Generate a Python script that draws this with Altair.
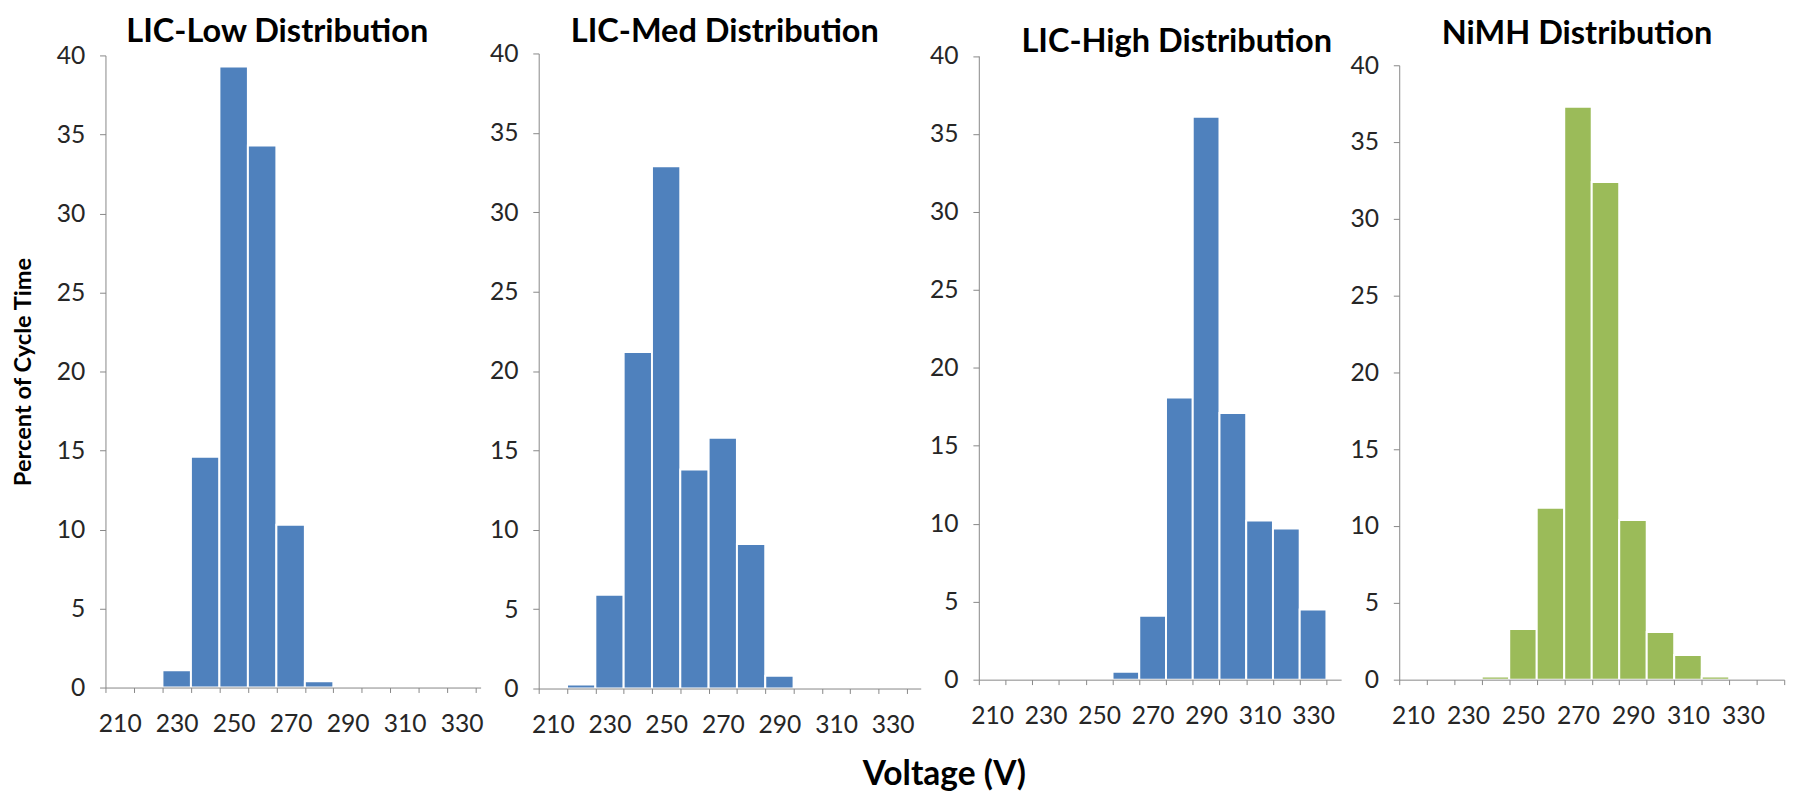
import altair as alt
import pandas as pd

# Voltage bin centres (V)
categories = [210, 220, 230, 240, 250, 260, 270, 280, 290, 300, 310, 320, 330, 340]

# Percent of cycle time per voltage bin
lic_low = [0, 0, 1.1, 14.6, 39.3, 34.3, 10.3, 0.4, 0, 0, 0, 0, 0]
lic_med = [0, 0.25, 5.9, 21.2, 32.9, 13.8, 15.8, 9.1, 0.8, 0, 0, 0, 0]
lic_high = [0, 0, 0, 0, 0, 0.5, 4.1, 18.1, 36.1, 17.1, 10.2, 9.7, 4.5]
nimh = [0, 0, 0, 0.2, 3.3, 11.2, 37.3, 32.4, 10.4, 3.1, 1.6, 0.2, 0, 0]

titles = ["LIC-Low Distribution", "LIC-Med Distribution",
          "LIC-High Distribution", "NiMH Distribution"]
series = [lic_low, lic_med, lic_high, nimh]
colors = ["#4F81BD", "#4F81BD", "#4F81BD", "#9BBB59"]

FONT = "Lato"
AXIS_COL = "#868686"
TEXT_COL = "#262626"
H = 648

# per-panel layout: plot width, x domain end, y range (bottom, top), x-axis offset,
# title dx / dy / offset, label offset (half a bin in px)
layout = [
    dict(width=381, xmax=336.7, rng=[644, 2], xoff=-4, tdx=-16, tdy=6, toff=1, lo=14.5),
    dict(width=388, xmax=339.9, rng=[645, 0], xoff=-3, tdx=-5, tdy=7, toff=0, lo=14.4),
    dict(width=368, xmax=340.5, rng=[636, 2.5], xoff=-12, tdx=17, tdy=15, toff=0, lo=13.6),
    dict(width=391, xmax=345.0, rng=[636, 12], xoff=-12, tdx=-15, tdy=6, toff=8.5, lo=14.0),
]

panels = []
for i, (title, vals, col, lay) in enumerate(zip(titles, series, colors, layout)):
    cats = categories[:len(vals)]
    df = pd.DataFrame({"volt": cats, "pct": vals})
    df["start"] = df["volt"] - 5
    df["end"] = df["volt"] + 5
    df = df[df["pct"] > 0]
    bounds_ticks = [c - 5 for c in cats] + [cats[-1] + 5]

    chart = alt.Chart(df).mark_bar(
        color=col, stroke="white", strokeWidth=2
    ).encode(
        x=alt.X("start:Q",
                scale=alt.Scale(domain=[205, lay["xmax"]], nice=False, zero=False),
                axis=alt.Axis(
                    values=bounds_ticks, title="",
                    labelExpr="datum.value <= 325 && (datum.value - 205) % 20 == 0 ? datum.value + 5 : ''",
                    labelOffset=lay["lo"], labelFlush=False, labelOverlap=False,
                    labelFont=FONT, labelFontSize=25, labelColor=TEXT_COL,
                    labelPadding=20, tickSize=5, tickColor=AXIS_COL,
                    domainColor=AXIS_COL, grid=False, offset=lay["xoff"], zindex=1)),
        x2="end:Q",
        y=alt.Y("pct:Q",
                scale=alt.Scale(domain=[0, 40], range=lay["rng"], nice=False),
                axis=alt.Axis(
                    values=list(range(0, 41, 5)),
                    title="Percent of Cycle Time" if i == 0 else "",
                    titleFont=FONT, titleFontSize=24, titleFontWeight="bold",
                    titleColor="black", titlePadding=21,
                    labelFont=FONT, labelFontSize=25, labelColor=TEXT_COL,
                    labelPadding=15, tickSize=6, tickColor=AXIS_COL,
                    domainColor=AXIS_COL, grid=False, zindex=1)),
        y2=alt.datum(0),
    ).properties(
        width=lay["width"], height=H,
        title=alt.TitleParams(title, font=FONT, fontSize=33, fontWeight="bold",
                              color="black", anchor="middle", frame="group",
                              offset=lay["toff"], dx=lay["tdx"], dy=lay["tdy"]),
    )
    panels.append(chart)

chart = alt.hconcat(*panels, spacing=59, bounds="flush").properties(
    title=alt.TitleParams("Voltage (V)", orient="bottom", anchor="middle",
                          font=FONT, fontSize=34, fontWeight="bold", color="black",
                          offset=21, dx=40),
    padding={"left": 3, "top": 2, "right": 0, "bottom": 0},
).configure(background="white").configure_view(stroke="transparent", strokeWidth=0)

chart.save("out.html", embed_options={"renderer": "svg", "actions": False})
